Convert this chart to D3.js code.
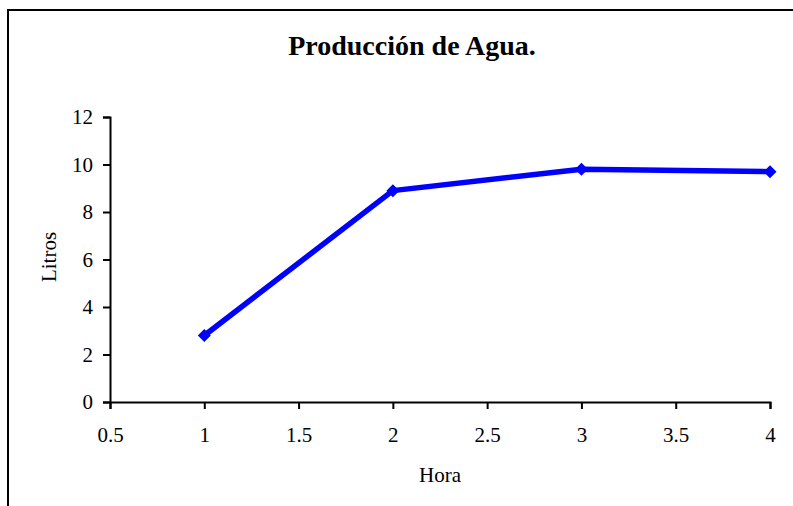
<!DOCTYPE html>
<html><head><meta charset="utf-8">
<script src="https://cdn.jsdelivr.net/npm/d3@7"></script>
<style>body{margin:0;background:#fff;}svg{display:block;}</style>
</head><body>
<script>
const hours = [1, 2, 3, 4];
const liters = [2.8, 8.9, 9.8, 9.7];
const xTicks = [0.5, 1, 1.5, 2, 2.5, 3, 3.5, 4];
const yTicks = [0, 2, 4, 6, 8, 10, 12];
const title = "Producción de Agua.";
const xLabel = "Hora";
const yLabel = "Litros";

const W = 793, H = 506;
const svg = d3.select("body").append("svg").attr("width", W).attr("height", H);
const font = "'Liberation Serif','Times New Roman',serif";

svg.append("rect").attr("x", 8).attr("y", 10).attr("width", 900).attr("height", 700)
  .attr("fill", "none").attr("stroke", "#000").attr("stroke-width", 2);

const x = d3.scaleLinear().domain([0.5, 4]).range([110, 770]);
const y = d3.scaleLinear().domain([0, 12]).range([402, 117]);

const xAxis = svg.append("g").attr("transform", "translate(0,402)")
  .call(d3.axisBottom(x).tickValues(xTicks).tickFormat(d3.format("")).tickSizeInner(7).tickSizeOuter(7).tickPadding(18));
const yAxis = svg.append("g").attr("transform", "translate(110,0)")
  .call(d3.axisLeft(y).tickValues(yTicks).tickFormat(d3.format("d")).tickSizeInner(7).tickSizeOuter(7).tickPadding(10));
[xAxis, yAxis].forEach(a => {
  a.attr("font-size", null).attr("font-family", null);
  a.selectAll("path, line").attr("stroke", "#000").attr("stroke-width", 2);
  a.selectAll("text").attr("fill", "#000").style("font-family", font).style("font-size", "21px");
});

const line = d3.line().x((d, i) => x(hours[i])).y(d => y(d));
svg.append("path").datum(liters).attr("d", line).attr("fill", "none")
  .attr("stroke", "#0000FF").attr("stroke-width", 5.5).attr("stroke-linejoin", "round");

svg.selectAll("path.mk").data(liters).enter().append("path").attr("class", "mk")
  .attr("d", "M0,-6.5L6.5,0L0,6.5L-6.5,0Z")
  .attr("transform", (d, i) => `translate(${x(hours[i])},${y(d)})`)
  .attr("fill", "#0000FF");

svg.append("text").attr("x", 412).attr("y", 55).attr("text-anchor", "middle")
  .style("font-family", font).style("font-size", "28px").style("font-weight", "bold").text(title);
svg.append("text").attr("x", 440).attr("y", 482).attr("text-anchor", "middle")
  .style("font-family", font).style("font-size", "21px").text(xLabel);
svg.append("text").attr("transform", "translate(56,257) rotate(-90)").attr("text-anchor", "middle")
  .style("font-family", font).style("font-size", "21px").text(yLabel);
</script>
</body></html>
